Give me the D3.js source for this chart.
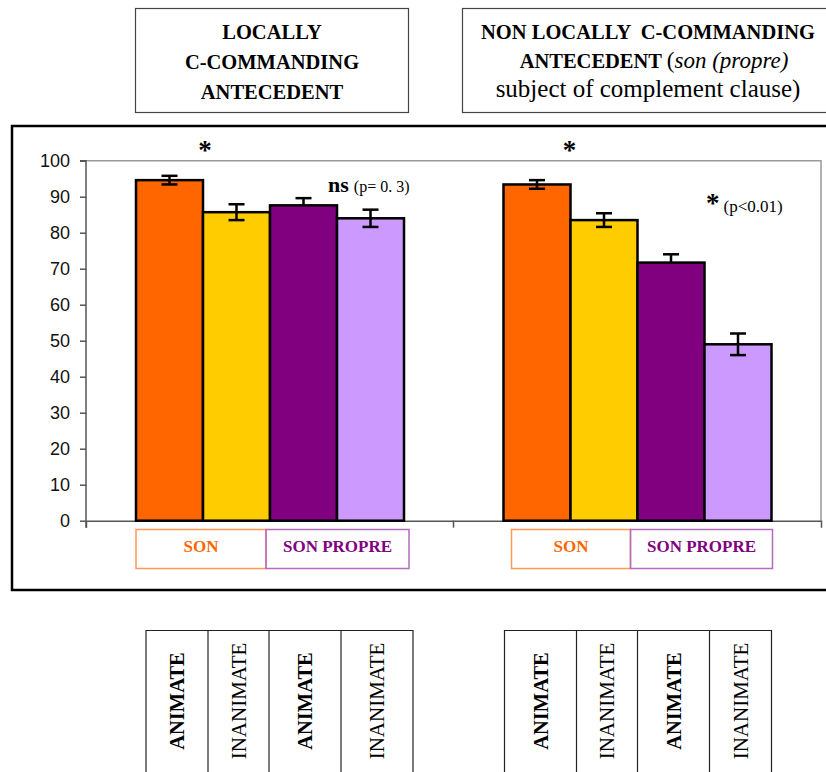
<!DOCTYPE html>
<html lang="en">
<head>
  <meta charset="UTF-8">
  <title>Son / son propre</title>
  <script src="https://d3js.org/d3.v7.min.js"></script>
  <style>
    body { margin: 0; background: #fff; }
    svg { display: block; }
  </style>
</head>
<body>
  <div id="chart"></div>
  <script>
    // data
    const groups = ["local", "nonlocal"];
    const series = ["son-animate", "son-inanimate", "propre-animate", "propre-inanimate"];
    const values = [
      [94.6, 85.7, 87.6, 84.0],
      [93.4, 83.5, 71.7, 49.0]
    ];
    const errors = [
      [1.2, 2.2, 2.0, 2.4],
      [1.2, 1.9, 2.3, 3.0]
    ];
    const yTicks = [0, 10, 20, 30, 40, 50, 60, 70, 80, 90, 100];
    const legendLabels = ["SON", "SON PROPRE"];
    const rowLabels = ["ANIMATE", "INANIMATE", "ANIMATE", "INANIMATE"];

    const colors = ["#FF6600", "#FFCC00", "#800080", "#CC99FF"];
    const serif = "'Liberation Serif', 'Times New Roman', serif";
    const sans = "'Liberation Sans', Arial, sans-serif";

    const width = 826, height = 772;
    const plot = { left: 86, right: 821, top: 160.7, bottom: 520.7 };

    const svg = d3.select("#chart").append("svg")
      .attr("width", width)
      .attr("height", height);

    const x = d3.scaleBand()
      .domain(groups)
      .range([plot.left, plot.right]);

    const xInner = d3.scaleBand()
      .domain(series)
      .range([50, 318]);

    const y = d3.scaleLinear()
      .domain([0, 100])
      .range([plot.bottom, plot.top]);

    // outer frame
    svg.append("rect")
      .attr("x", 12).attr("y", 126)
      .attr("width", 830).attr("height", 464)
      .attr("fill", "none")
      .attr("stroke", "#000")
      .attr("stroke-width", 2.5);

    // plot area border (light gray)
    svg.append("path")
      .attr("d", `M${plot.left},${plot.top}H${plot.right}V${plot.bottom}`)
      .attr("fill", "none")
      .attr("stroke", "#999")
      .attr("stroke-width", 1.5);

    // y axis
    const yAxis = svg.append("g")
      .attr("transform", `translate(${plot.left},0)`)
      .call(d3.axisLeft(y).tickValues(yTicks).tickSize(6).tickPadding(10));
    yAxis.select(".domain").attr("stroke", "#555").attr("stroke-width", 1.5)
      .attr("d", `M-6,${plot.top}H0V${plot.bottom + 7}`);
    yAxis.selectAll(".tick line").attr("stroke", "#555").attr("stroke-width", 1.5);
    yAxis.selectAll(".tick text")
      .attr("font-family", sans)
      .attr("font-size", 18)
      .attr("fill", "#111");

    // x axis line with group separators
    const xAxis = svg.append("g")
      .attr("transform", `translate(0,${plot.bottom})`)
      .call(d3.axisBottom(x).tickValues([]).tickSizeOuter(7));
    xAxis.select(".domain").attr("stroke", "#555").attr("stroke-width", 1.5);
    xAxis.append("line")
      .attr("x1", x("nonlocal")).attr("x2", x("nonlocal"))
      .attr("y1", 0).attr("y2", 7)
      .attr("stroke", "#555").attr("stroke-width", 1.5);

    // bars
    const groupG = svg.selectAll(".grp")
      .data(groups)
      .join("g")
      .attr("class", "grp")
      .attr("transform", g => `translate(${x(g)},0)`);

    const rows = (g, gi) => series.map((s, si) => ({ s, si, v: values[gi][si], e: errors[gi][si] }));

    groupG.selectAll("rect.bar")
      .data(rows)
      .join("rect")
      .attr("class", "bar")
      .attr("x", d => xInner(d.s))
      .attr("y", d => y(d.v))
      .attr("width", xInner.bandwidth())
      .attr("height", d => y(0) - y(d.v))
      .attr("fill", d => colors[d.si])
      .attr("stroke", "#000")
      .attr("stroke-width", 2.5);

    // error bars (lower half hidden on the dark purple bars)
    const err = groupG.selectAll(".err")
      .data(rows)
      .join("g")
      .attr("class", "err")
      .attr("transform", d => `translate(${xInner(d.s) + xInner.bandwidth() / 2},0)`)
      .attr("stroke", "#000")
      .attr("stroke-width", 2.5);
    err.append("line")
      .attr("y1", d => y(d.v + d.e))
      .attr("y2", d => d.si === 2 ? y(d.v) : y(d.v - d.e));
    err.append("line")
      .attr("x1", -8).attr("x2", 8)
      .attr("y1", d => y(d.v + d.e)).attr("y2", d => y(d.v + d.e));
    err.filter(d => d.si !== 2).append("line")
      .attr("x1", -8).attr("x2", 8)
      .attr("y1", d => y(d.v - d.e)).attr("y2", d => y(d.v - d.e));

    // significance marks
    groupG.append("text")
      .attr("x", (g, i) => i === 0 ? 119 : 116)
      .attr("y", 159)
      .attr("text-anchor", "middle")
      .attr("font-family", serif)
      .attr("font-weight", "bold")
      .attr("font-size", 27)
      .text("*");

    const ns = svg.append("text")
      .attr("x", 328).attr("y", 192)
      .attr("font-family", serif);
    ns.append("tspan").attr("font-weight", "bold").attr("font-size", 22).text("ns");
    ns.append("tspan").attr("font-size", 16).attr("dx", 5).text("(p= 0. 3)");

    const sig = svg.append("text")
      .attr("x", 706).attr("y", 212)
      .attr("font-family", serif);
    sig.append("tspan").attr("font-weight", "bold").attr("font-size", 27).text("*");
    sig.append("tspan").attr("font-size", 17).attr("dx", 4).text("(p<0.01)");

    // legend boxes under each group
    const legOffsets = [[50, 180, 323], [58, 177, 319]];
    const legStroke = ["#FF9955", "#B36BC0"];
    const legText = ["#FF6600", "#800080"];
    groupG.each(function (g, gi) {
      const off = legOffsets[gi];
      legendLabels.forEach((lab, li) => {
        d3.select(this).append("rect")
          .attr("x", off[li])
          .attr("y", 529.5)
          .attr("width", off[li + 1] - off[li])
          .attr("height", 39)
          .attr("fill", "none")
          .attr("stroke", legStroke[li])
          .attr("stroke-width", 1.5);
        d3.select(this).append("text")
          .attr("x", (off[li] + off[li + 1]) / 2)
          .attr("y", 552)
          .attr("text-anchor", "middle")
          .attr("font-family", serif)
          .attr("font-weight", "bold")
          .attr("font-size", 17)
          .attr("fill", legText[li])
          .text(lab);
      });
    });

    // header boxes
    const head1 = svg.append("g");
    head1.append("rect")
      .attr("x", 135.5).attr("y", 8.5).attr("width", 273).attr("height", 104)
      .attr("fill", "none").attr("stroke", "#444").attr("stroke-width", 1.2);
    ["LOCALLY", "C-COMMANDING", "ANTECEDENT"].forEach((t, i) => {
      head1.append("text")
        .attr("x", 272).attr("y", 39 + i * 29.8)
        .attr("text-anchor", "middle")
        .attr("font-family", serif).attr("font-weight", "bold").attr("font-size", 20.5)
        .text(t);
    });

    const head2 = svg.append("g");
    head2.append("rect")
      .attr("x", 462.5).attr("y", 8.5).attr("width", 372).attr("height", 104)
      .attr("fill", "none").attr("stroke", "#444").attr("stroke-width", 1.2);
    head2.append("text")
      .attr("x", 648).attr("y", 39)
      .attr("text-anchor", "middle")
      .attr("font-family", serif).attr("font-weight", "bold").attr("font-size", 20.5)
      .attr("xml:space", "preserve")
      .text("NON LOCALLY  C-COMMANDING");
    const l2 = head2.append("text")
      .attr("x", 654).attr("y", 68)
      .attr("text-anchor", "middle")
      .attr("font-family", serif).attr("font-size", 23);
    l2.append("tspan").attr("font-weight", "bold").attr("font-size", 20.5).text("ANTECEDENT ");
    l2.append("tspan").text("(");
    l2.append("tspan").attr("font-style", "italic").text("son (propre)");
    head2.append("text")
      .attr("x", 648).attr("y", 97)
      .attr("text-anchor", "middle")
      .attr("font-family", serif).attr("font-size", 25)
      .text("subject of complement clause)");

    // bottom condition table
    const cols = [[60, 122, 183, 255, 327], [51, 123, 184, 256, 318]];
    groupG.each(function (g, gi) {
      const c = cols[gi];
      const sel = d3.select(this);
      sel.append("path")
        .attr("d", `M${c[0]},${height + 2}V630.5H${c[4]}V${height + 2}`)
        .attr("fill", "none").attr("stroke", "#222").attr("stroke-width", 1.2);
      sel.selectAll(".div")
        .data(c.slice(1, 4))
        .join("line")
        .attr("class", "div")
        .attr("x1", d => d).attr("x2", d => d)
        .attr("y1", 630.5).attr("y2", height + 2)
        .attr("stroke", "#222").attr("stroke-width", 1.2);
      sel.selectAll(".rowlab")
        .data(rowLabels)
        .join("text")
        .attr("class", "rowlab")
        .attr("transform", (d, i) => `translate(${(c[i] + c[i + 1]) / 2 + 7},701) rotate(-90)`)
        .attr("text-anchor", "middle")
        .attr("font-family", serif)
        .attr("font-weight", (d, i) => i % 2 === 0 ? "bold" : "normal")
        .attr("font-size", (d, i) => i % 2 === 0 ? 20.5 : 21)
        .text(d => d);
    });
  </script>
</body>
</html>
